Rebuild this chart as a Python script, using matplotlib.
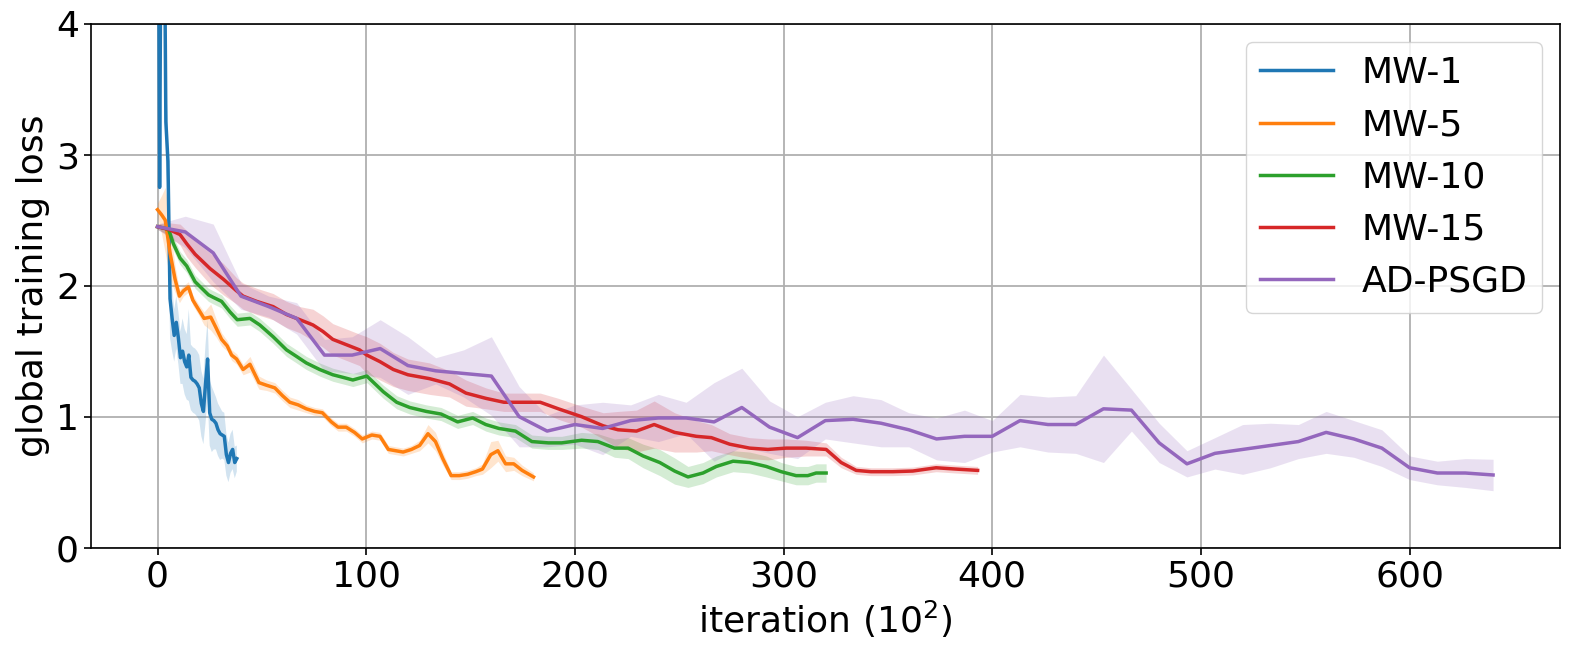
import matplotlib
matplotlib.use("Agg")
import matplotlib.pyplot as plt
import numpy as np

# MW-1
mw1_x = [0, 1, 2, 3, 4, 5, 6, 7, 8, 9, 10, 11, 12, 13, 14, 15, 16, 17, 18, 19,
         20, 21, 22, 23, 24, 25, 26, 27, 28, 29, 30, 31, 32, 33, 34, 35, 36, 37, 38]
mw1_y = [7.0, 2.75, 6.0, 5.5, 3.25, 2.95, 1.90, 1.75, 1.62, 1.72, 1.60, 1.45, 1.50,
         1.42, 1.38, 1.47, 1.30, 1.28, 1.27, 1.25, 1.22, 1.10, 1.04, 1.25, 1.44, 1.03,
         0.98, 0.97, 0.95, 0.90, 0.87, 0.86, 0.85, 0.71, 0.65, 0.72, 0.75, 0.65, 0.68]
mw1_std = [0.3, 0.2, 0.3, 0.3, 0.3, 0.3, 0.3, 0.25, 0.2, 0.2, 0.2, 0.2, 0.25,
           0.25, 0.25, 0.35, 0.25, 0.25, 0.25, 0.25, 0.25, 0.25, 0.25, 0.3, 0.3, 0.25,
           0.25, 0.22, 0.2, 0.2, 0.2, 0.18, 0.18, 0.16, 0.15, 0.15, 0.15, 0.12, 0.1]

# MW-5
mw5_x = [0, 2, 3.7, 6, 8.4, 10.5, 12.4, 14.8, 16.9, 19.6, 22.3, 25.5, 28, 30.7, 33.4,
         35.5, 37.9, 41, 44.3, 48.6, 52.2, 56.2, 59.9, 63.4, 67.4, 71.3, 75.3, 79, 83.3,
         86.5, 90.4, 94.4, 98.1, 102.7, 106.6, 110.6, 117.7, 121.7, 125.6, 129.6, 133.2,
         136.7, 140.7, 144.6, 148.6, 152.5, 155.7, 159.7, 163.1, 166.8, 170.7, 174.7, 180.2]
mw5_y = [2.58, 2.54, 2.50, 2.25, 2.05, 1.92, 1.96, 1.99, 1.89, 1.82, 1.75, 1.76, 1.68,
         1.59, 1.54, 1.47, 1.44, 1.36, 1.40, 1.26, 1.24, 1.22, 1.16, 1.11, 1.09, 1.06,
         1.04, 1.03, 0.96, 0.92, 0.92, 0.88, 0.83, 0.86, 0.85, 0.75, 0.73, 0.75, 0.78,
         0.87, 0.81, 0.68, 0.55, 0.55, 0.56, 0.58, 0.60, 0.71, 0.74, 0.64, 0.64, 0.59, 0.54]
mw5_std = [0.05, 0.15, 0.25, 0.2, 0.1, 0.05, 0.04, 0.04, 0.04, 0.04, 0.05, 0.1, 0.07,
           0.05, 0.04, 0.04, 0.04, 0.04, 0.06, 0.05, 0.04, 0.04, 0.04, 0.04, 0.04, 0.03,
           0.03, 0.03, 0.03, 0.03, 0.03, 0.03, 0.03, 0.03, 0.03, 0.03, 0.03, 0.03, 0.04,
           0.07, 0.07, 0.05, 0.03, 0.03, 0.03, 0.03, 0.04, 0.1, 0.08, 0.06, 0.05, 0.04, 0.03]

# MW-10
mw10_x = [0, 5.3, 7.6, 10.8, 14, 18, 21.2, 24.4, 26.8, 30.7, 34.7, 38.2, 44.3, 49, 55.4,
          61.8, 66.6, 71.3, 77.7, 84, 88.9, 93.6, 100.3, 108.2, 114.6, 120.9, 128.8,
          135.9, 139.9, 143.8, 151, 157.3, 163.6, 171.5, 179.4, 187.3, 193.7, 203.2, 211,
          219, 225.5, 232.7, 240.7, 247.8, 254.2, 261.4, 267.8, 275.8, 283.7, 291.7, 298.9,
          306, 311.6, 315.6, 320.4]
mw10_y = [2.45, 2.43, 2.32, 2.21, 2.15, 2.03, 1.98, 1.93, 1.91, 1.88, 1.80, 1.74, 1.75,
          1.70, 1.61, 1.51, 1.46, 1.41, 1.36, 1.32, 1.30, 1.28, 1.31, 1.19, 1.11, 1.07,
          1.04, 1.02, 0.99, 0.96, 0.99, 0.94, 0.91, 0.89, 0.81, 0.80, 0.80, 0.82, 0.81,
          0.76, 0.76, 0.70, 0.65, 0.585, 0.54, 0.57, 0.62, 0.66, 0.65, 0.62, 0.58, 0.55,
          0.55, 0.57, 0.57]
mw10_std = [0.02, 0.04, 0.05, 0.05, 0.05, 0.05, 0.05, 0.05, 0.05, 0.05, 0.05, 0.05, 0.05,
            0.05, 0.05, 0.05, 0.05, 0.05, 0.05, 0.05, 0.05, 0.05, 0.05, 0.05, 0.05, 0.05,
            0.05, 0.05, 0.05, 0.05, 0.05, 0.05, 0.05, 0.05, 0.05, 0.05, 0.05, 0.06, 0.06,
            0.07, 0.08, 0.09, 0.1, 0.1, 0.08, 0.08, 0.08, 0.08, 0.08, 0.08, 0.07, 0.07,
            0.07, 0.07, 0.07]

# MW-15
mw15_x = [0, 5.3, 10.8, 14, 18, 25.2, 31.5, 37.9, 41, 47.5, 55.4, 61.8, 68.2, 74.5, 79.3,
          84, 90.4, 96.8, 100.3, 106.6, 113, 120, 130.4, 139.9, 147.8, 157.3, 166, 174.7,
          183.4, 192.1, 203.2, 213.6, 220.7, 229.5, 238, 247.8, 258.2, 265.4, 274.2,
          283.7, 292.5, 301.3, 310.8, 320.4, 327.6, 334.8, 341.9, 352.3, 361.9, 373.1,
          382.6, 393]
mw15_y = [2.45, 2.43, 2.39, 2.32, 2.24, 2.13, 2.05, 1.96, 1.92, 1.88, 1.84, 1.78, 1.74,
          1.70, 1.65, 1.59, 1.55, 1.51, 1.47, 1.42, 1.36, 1.32, 1.29, 1.25, 1.18, 1.14,
          1.11, 1.11, 1.11, 1.06, 1.00, 0.93, 0.90, 0.89, 0.94, 0.88, 0.85, 0.84, 0.79,
          0.76, 0.75, 0.76, 0.76, 0.75, 0.65, 0.59, 0.58, 0.58, 0.585, 0.61, 0.60, 0.59]
mw15_std = [0.02, 0.05, 0.08, 0.1, 0.1, 0.12, 0.12, 0.1, 0.1, 0.1, 0.1, 0.1, 0.1, 0.12,
            0.12, 0.12, 0.12, 0.12, 0.14, 0.14, 0.13, 0.12, 0.12, 0.1, 0.1, 0.08, 0.07,
            0.07, 0.07, 0.08, 0.08, 0.1, 0.14, 0.16, 0.18, 0.15, 0.12, 0.1, 0.08, 0.08,
            0.08, 0.07, 0.06, 0.05, 0.04, 0.03, 0.03, 0.03, 0.03, 0.03, 0.03, 0.03]

# AD-PSGD
adpsgd_x = [0, 13.3, 26.7, 40, 53.3, 66.7, 80, 93.3, 106.7, 120, 133.3, 146.7, 160, 173.3,
            186.7, 200, 213.3, 226.7, 240, 253.3, 266.7, 280, 293.3, 306.7, 320, 333.3,
            346.7, 360, 373.3, 386.7, 400, 413.3, 426.7, 440, 453.3, 466.7, 480, 493.3,
            506.7, 520, 533.3, 546.7, 560, 573.3, 586.7, 600, 613.3, 626.7, 640]
adpsgd_y = [2.45, 2.41, 2.25, 1.92, 1.84, 1.75, 1.47, 1.47, 1.52, 1.39, 1.35, 1.33, 1.31,
            1.00, 0.89, 0.94, 0.91, 0.97, 0.99, 0.99, 0.96, 1.07, 0.92, 0.84, 0.97, 0.98,
            0.95, 0.90, 0.83, 0.85, 0.85, 0.97, 0.94, 0.94, 1.06, 1.05, 0.80, 0.64, 0.72,
            0.75, 0.78, 0.81, 0.88, 0.83, 0.76, 0.61, 0.57, 0.57, 0.555]
adpsgd_std = [0.02, 0.12, 0.22, 0.1, 0.08, 0.12, 0.12, 0.14, 0.22, 0.22, 0.1, 0.18, 0.3,
              0.23, 0.12, 0.15, 0.2, 0.12, 0.18, 0.12, 0.3, 0.3, 0.2, 0.16, 0.14, 0.18,
              0.18, 0.13, 0.16, 0.2, 0.12, 0.2, 0.21, 0.22, 0.41, 0.16, 0.15, 0.1, 0.12,
              0.19, 0.17, 0.13, 0.16, 0.14, 0.14, 0.09, 0.09, 0.11, 0.12]

labels = ["MW-1", "MW-5", "MW-10", "MW-15", "AD-PSGD"]
series = [(mw1_x, mw1_y, mw1_std), (mw5_x, mw5_y, mw5_std), (mw10_x, mw10_y, mw10_std),
          (mw15_x, mw15_y, mw15_std), (adpsgd_x, adpsgd_y, adpsgd_std)]
colors = ["#1f77b4", "#ff7f0e", "#2ca02c", "#d62728", "#9467bd"]

FS = 26
plt.rcParams.update({
    "font.size": FS,
    "axes.linewidth": 1.2,
    "xtick.major.width": 1.2,
    "ytick.major.width": 1.2,
    "xtick.major.size": 5,
    "ytick.major.size": 5,
})

fig = plt.figure(figsize=(15.78, 6.51), dpi=100)
ax = fig.add_axes([0.0575, 0.1587, 0.931, 0.805])

for (x, y, s), lab, c in zip(series, labels, colors):
    x = np.array(x)
    y = np.array(y)
    s = np.array(s)
    ax.fill_between(x, y - s, y + s, color=c, alpha=0.2, linewidth=0)
    ax.plot(x, y, color=c, lw=2.5, label=lab)

ax.set_ylim(0, 4)
ax.set_yticks([0, 1, 2, 3, 4])
ax.set_xticks([0, 100, 200, 300, 400, 500, 600])
ax.grid(True, color="#b0b0b0", lw=1.3)
ax.set_axisbelow(True)
ax.set_xlabel("iteration (10$^2$)", fontsize=FS)
ax.set_ylabel("global training loss", fontsize=FS)
ax.tick_params(labelsize=FS)
ax.legend(loc="upper right", fontsize=FS)

fig.savefig("out.png", dpi=100)
